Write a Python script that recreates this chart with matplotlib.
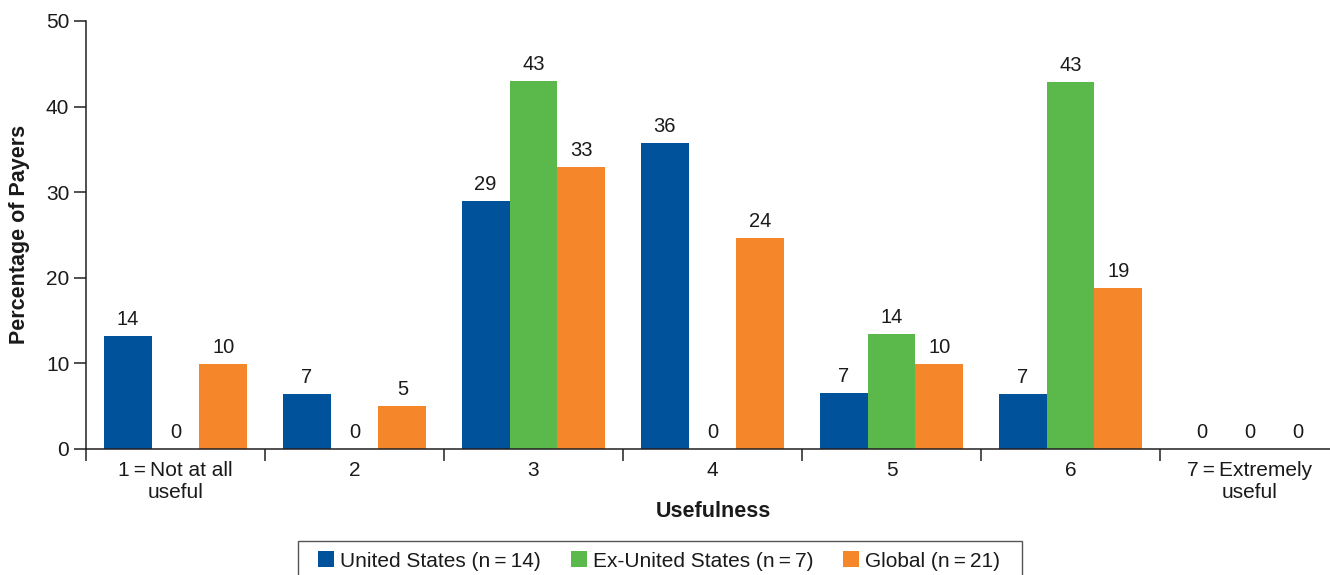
import matplotlib
matplotlib.use("Agg")
import matplotlib.pyplot as plt
from matplotlib.patches import Rectangle, Patch
import numpy as np

plt.rcParams['font.family'] = ['Liberation Sans', 'DejaVu Sans']

categories = ["1\u2009=\u2009Not at all\nuseful", "2", "3", "4", "5", "6", "7\u2009=\u2009Extremely\nuseful"]
series_names = ["United States (n\u2009=\u200914)", "Ex-United States (n\u2009=\u20097)", "Global (n\u2009=\u200921)"]
# bar heights as drawn
us_values = [13.2, 6.4, 29.0, 35.8, 6.5, 6.4, 0]
exus_values = [0, 0, 43.0, 0, 13.4, 42.9, 0]
global_values = [9.95, 5.0, 33.0, 24.7, 9.9, 18.8, 0]
# printed labels
us_labels = [14, 7, 29, 36, 7, 7, 0]
exus_labels = [0, 0, 43, 0, 14, 43, 0]
global_labels = [10, 5, 33, 24, 10, 19, 0]
y_ticks = [0, 10, 20, 30, 40, 50]

colors = ["#00529b", "#5ab94a", "#f5862a"]
line_col = "#231f20"
txt_col = "#1a1a1a"

W, H = 1330, 575
fig = plt.figure(figsize=(W / 100, H / 100), dpi=100)
ax = fig.add_axes([86 / W, (H - 449) / H, 1 - 86 / W, (449 - 21) / H])

x = np.arange(len(categories))
bw = 0.268
values = [us_values, exus_values, global_values]
labels = [us_labels, exus_labels, global_labels]
for k, (vals, labs, c) in enumerate(zip(values, labels, colors)):
    pos = x + (k - 1) * bw
    ax.bar(pos, vals, width=bw, color=c, linewidth=0, zorder=2)
    for px, v, lab in zip(pos, vals, labs):
        ax.annotate(str(lab), (px, v), xytext=(0, 5), textcoords="offset points",
                    ha="center", va="bottom", fontsize=14.5, color=txt_col)

ax.set_xlim(-0.5, -0.5 + (W - 86) / 179)
ax.set_ylim(0, 50)
ax.set_yticks(y_ticks)
ax.set_yticklabels([str(t) for t in y_ticks], fontsize=15, color=txt_col)
ax.tick_params(axis="y", direction="out", length=9, width=1.1, color=line_col, pad=3)

ax.set_xticks(np.arange(-0.5, len(categories) - 0.5, 1.0))
ax.set_xticklabels([])
ax.tick_params(axis="x", which="major", direction="out", length=8.5, width=1.1, color=line_col)
ax.set_xticks(x, minor=True)
ax.set_xticklabels(categories, minor=True, fontsize=15, color=txt_col, linespacing=1.2)
ax.tick_params(axis="x", which="minor", length=0, pad=9)

for s in ["top", "right"]:
    ax.spines[s].set_visible(False)
for s in ["left", "bottom"]:
    ax.spines[s].set_color(line_col)
    ax.spines[s].set_linewidth(1.1)

fig.text(20 / W, 1 - 234 / H, "Percentage of Payers", rotation=90, ha="center", va="center",
         fontsize=15.5, fontweight="bold", color=txt_col)
fig.text(713 / W, 1 - 517 / H, "Usefulness", ha="center", va="baseline",
         fontsize=15.5, fontweight="bold", color=txt_col)

handles = [Patch(facecolor=c, edgecolor="none") for c in colors]
leg = fig.legend(handles, series_names, loc="center", bbox_to_anchor=(659 / W, 1 - 561 / H),
                 ncol=3, frameon=False, fontsize=15, handlelength=0.77, handleheight=0.77,
                 handletextpad=0.29, columnspacing=1.44, borderpad=0, borderaxespad=0)
for t in leg.get_texts():
    t.set_color(txt_col)
fig.add_artist(Rectangle((298 / W, -0.05), (1022 - 298) / W, 0.05 + (H - 541) / H,
                         transform=fig.transFigure, fill=False, edgecolor="#555555", linewidth=1.0))

fig.savefig("out.png", dpi=100)
